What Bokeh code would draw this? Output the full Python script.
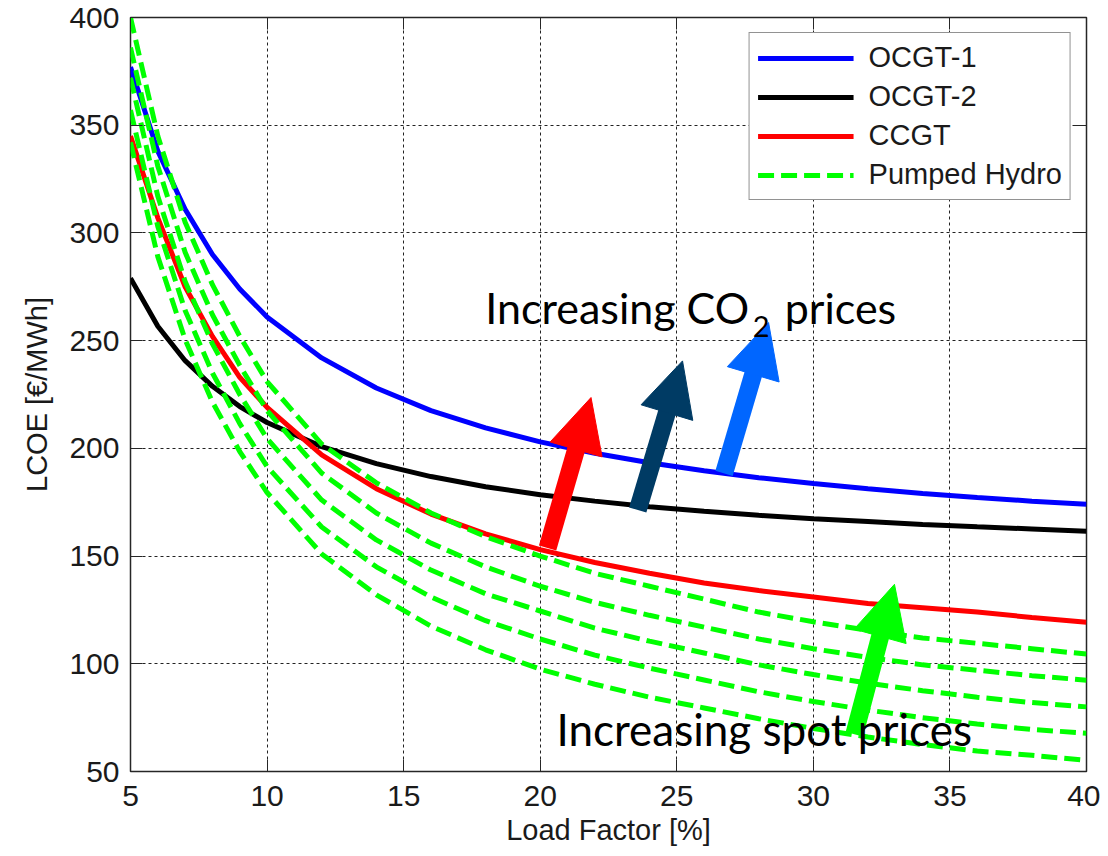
from bokeh.plotting import figure
from bokeh.models import (Range1d, LinearAxis, FixedTicker, Legend, LegendItem,
                          Arrow, NormalHead, Label, CustomJSTickFormatter)
from bokeh.embed import file_html
from bokeh.resources import INLINE

# ---------------- data ----------------
load_factor = [5, 6, 7, 8, 9, 10, 12, 14, 16, 18, 20, 22, 24, 26, 28, 30, 32, 34, 36, 38, 40]

ocgt1 = [377, 338, 311, 290, 274, 261, 242, 228, 217.5, 209.5, 203, 197.7, 193.3, 189.6,
         186.4, 183.7, 181.3, 179, 177.2, 175.5, 174]
ocgt2 = [279, 256.7, 240.7, 228.8, 219.4, 212, 200.8, 192.9, 186.9, 182.2, 178.5, 175.5,
         172.9, 170.8, 168.9, 167.3, 166, 164.7, 163.6, 162.6, 161.5]
ccgt = [345, 307, 275, 252, 233, 219, 197, 181.3, 169.5, 160.3, 153, 147, 142, 137.5,
        134, 131, 128, 126, 124, 121.5, 119.3]

hydro_1 = [400, 345, 305, 276, 252, 231, 202, 184, 170, 159, 150, 142, 136, 130, 124,
           119.5, 115.5, 112, 109.5, 107, 104.5]
hydro_2 = [386, 331, 291, 262, 238.5, 217.5, 188.5, 170, 156, 145, 136, 128.5, 122.5, 117,
           111.5, 107, 103, 99.5, 97, 94.5, 92.4]
hydro_3 = [372, 317, 277.5, 248.5, 225, 204.5, 176, 157.5, 143.5, 132.5, 124.5, 116.5,
           110.5, 105, 99.5, 95, 91, 87.5, 84.5, 82, 80]
hydro_4 = [357, 303, 264, 235, 211.5, 191.5, 163.5, 145, 131, 120, 111.5, 104, 98, 92.5,
           87, 82.5, 78.5, 75, 72, 69.5, 67.8]
hydro_5 = [342, 289, 250.5, 221.5, 198.5, 179.5, 151, 132, 117.5, 106.5, 97.5, 90.5, 84.5,
           79.5, 74.5, 70, 66, 62.5, 59.5, 57.5, 55.2]
hydro_series = [hydro_1, hydro_2, hydro_3, hydro_4, hydro_5]

x_ticks = [5, 10, 15, 20, 25, 30, 35, 40]
y_ticks = [50, 100, 150, 200, 250, 300, 350, 400]

series_names = ["OCGT-1", "OCGT-2", "CCGT", "Pumped Hydro"]

# annotation arrows: (shaft start, head base, tip) in data units
arrow_start_x = [20.27, 23.57, 26.73, 31.50]
arrow_start_y = [153.7, 171.4, 188.4, 67.3]
arrow_base_x = [21.31, 24.63, 27.79, 32.44]
arrow_base_y = [199.3, 216.2, 234.0, 112.6]
arrow_tip_x = [21.86, 25.21, 28.36, 32.97]
arrow_tip_y = [223.6, 240.6, 258.4, 136.9]
arrow_colors = ["#FF0000", "#003B64", "#0066FF", "#00FF00"]

# ---------------- figure ----------------
p = figure(frame_width=956, frame_height=754,
           x_range=Range1d(5, 40), y_range=Range1d(50, 400),
           output_backend="svg", toolbar_location=None,
           min_border_left=130, min_border_right=14, min_border_top=17, min_border_bottom=77,
           background_fill_color="white", border_fill_color="white")

p.outline_line_color = "#262626"
p.outline_line_width = 1.5

FONT = "Liberation Sans"
TXT = "#1a1a1a"

p.xaxis.ticker = FixedTicker(ticks=x_ticks)
p.yaxis.ticker = FixedTicker(ticks=y_ticks)
p.xaxis.axis_label = "Load Factor [%]"
p.yaxis.axis_label = "LCOE [€/MWh]"
for ax in (p.xaxis[0], p.yaxis[0]):
    ax.major_tick_in = 12
    ax.major_tick_out = 0
    ax.minor_tick_in = 0
    ax.minor_tick_out = 0
    ax.axis_line_color = None
    ax.major_tick_line_color = "#262626"
    ax.major_label_text_font = FONT
    ax.major_label_text_font_size = "30px"
    ax.major_label_text_color = TXT
    ax.axis_label_text_font = FONT
    ax.axis_label_text_font_size = "29px"
    ax.axis_label_text_font_style = "normal"
    ax.axis_label_text_color = TXT
p.xaxis.major_label_standoff = 14
p.xaxis.axis_label_standoff = 5
p.yaxis.major_label_standoff = 11
p.yaxis.axis_label_standoff = 13

blank = CustomJSTickFormatter(code="return ''")
ax_r = LinearAxis(ticker=FixedTicker(ticks=y_ticks), formatter=blank,
                  major_tick_in=12, major_tick_out=0, minor_tick_in=0, minor_tick_out=0,
                  major_label_standoff=0, axis_line_color=None,
                  major_tick_line_color="#262626")
ax_t = LinearAxis(ticker=FixedTicker(ticks=x_ticks), formatter=blank,
                  major_tick_in=12, major_tick_out=0, minor_tick_in=0, minor_tick_out=0,
                  major_label_standoff=0, axis_line_color=None,
                  major_tick_line_color="#262626")
p.add_layout(ax_r, "right")
p.add_layout(ax_t, "above")

for g in (p.xgrid[0], p.ygrid[0]):
    g.grid_line_color = "#222222"
    g.grid_line_dash = "3 3"
    g.grid_line_width = 1

# ---------------- lines ----------------
r1 = p.line(load_factor, ocgt1, line_color="#0000FF", line_width=5)
r2 = p.line(load_factor, ocgt2, line_color="#000000", line_width=5)
r3 = p.line(load_factor, ccgt, line_color="#FF0000", line_width=5)
hydro_renderers = []
for s in hydro_series:
    hydro_renderers.append(p.line(load_factor, s, line_color="#00FF00", line_width=5,
                                  line_dash="16 7"))

legend = Legend(items=[LegendItem(label=series_names[0], renderers=[r1]),
                       LegendItem(label=series_names[1], renderers=[r2]),
                       LegendItem(label=series_names[2], renderers=[r3]),
                       LegendItem(label=series_names[3], renderers=[hydro_renderers[0]])],
                location="top_right", margin=15, padding=8, spacing=6,
                glyph_width=96, glyph_height=30, label_height=30, label_standoff=15,
                label_text_font=FONT, label_text_font_size="29px", label_text_color=TXT,
                border_line_color="#262626", border_line_width=1.5,
                background_fill_color="white", background_fill_alpha=1)
p.add_layout(legend)

# ---------------- arrows ----------------
for i, c in enumerate(arrow_colors):
    ex = arrow_base_x[i] + 0.2 * (arrow_tip_x[i] - arrow_base_x[i])
    ey = arrow_base_y[i] + 0.2 * (arrow_tip_y[i] - arrow_base_y[i])
    p.add_layout(Arrow(end=None, x_start=arrow_start_x[i], y_start=arrow_start_y[i],
                       x_end=ex, y_end=ey, line_color=c, line_width=18))
    p.add_layout(Arrow(end=NormalHead(size=54, fill_color=c, line_color=c, line_width=1),
                       x_start=arrow_base_x[i], y_start=arrow_base_y[i],
                       x_end=arrow_tip_x[i], y_end=arrow_tip_y[i],
                       line_alpha=0, line_width=1))

# ---------------- texts ----------------
ANN = "Lato"
p.add_layout(Label(x=27.65, y=265.4, text="Increasing CO", text_align="right",
                   text_baseline="alphabetic", text_font=ANN, text_font_size="43px",
                   text_color="black"))
p.add_layout(Label(x=27.78, y=256.5, text="2", text_align="left",
                   text_baseline="alphabetic", text_font=ANN, text_font_size="29px",
                   text_color="black"))
p.add_layout(Label(x=28.95, y=265.4, text="prices", text_align="left",
                   text_baseline="alphabetic", text_font=ANN, text_font_size="43px",
                   text_color="black"))
p.add_layout(Label(x=28.2, y=69.6, text="Increasing spot prices", text_align="center",
                   text_baseline="alphabetic", text_font=ANN, text_font_size="44px",
                   text_color="black"))

open("out.html", "w").write(file_html(p, INLINE))
